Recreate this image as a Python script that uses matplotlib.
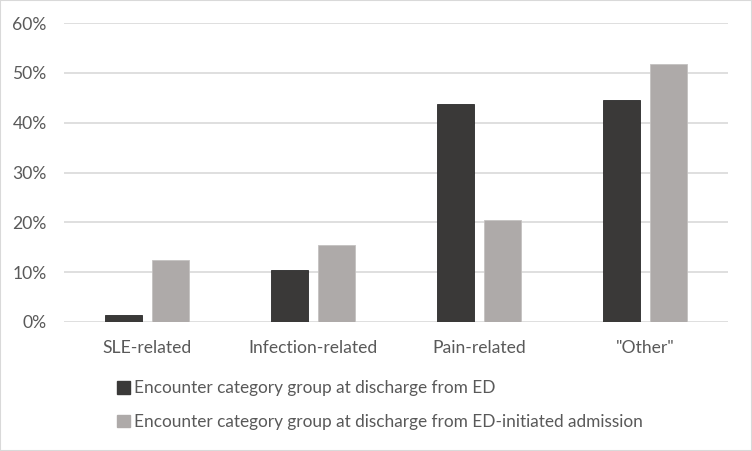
import numpy as np
import matplotlib.pyplot as plt
from matplotlib.patches import Patch, Rectangle

categories = ["SLE-related", "Infection-related", "Pain-related", "\"Other\""]
ed_discharge = [1.4, 10.4, 43.7, 44.6]
ed_admission = [12.4, 15.5, 20.4, 51.7]
series_names = ["Encounter category group at discharge from ED",
                "Encounter category group at discharge from ED-initiated admission"]
yticks = [0, 10, 20, 30, 40, 50, 60]

dark = "#3a3938"
light = "#aeaaa9"
text_col = "#595959"

plt.rcParams['font.family'] = ['Lato', 'DejaVu Sans']

fig = plt.figure(figsize=(7.52, 4.51), dpi=100)
ax = fig.add_axes([64/752, 129/451, 664/752, 299/451])

x = np.arange(len(categories))
w = 0.223
off = 0.1416
ax.bar(x - off, ed_discharge, width=w, color=dark, edgecolor="#2a2a2a", linewidth=0.6, zorder=3)
ax.bar(x + off, ed_admission, width=w, color=light, edgecolor="#c4c1c0", linewidth=0.6, zorder=3)

ax.set_xlim(-0.5, len(categories) - 0.5)
ax.set_ylim(0, 60)
ax.set_yticks(yticks)
ax.set_yticklabels([f"{t}%" for t in yticks])
ax.set_xticks(x)
ax.set_xticklabels(categories)
ax.grid(axis="y", color="#d9d9d9", linewidth=1.2, zorder=0)
for s in ax.spines.values():
    s.set_visible(False)
ax.tick_params(axis="both", length=0, labelsize=12.6, labelcolor=text_col)
ax.tick_params(axis="y", pad=12.5)
ax.tick_params(axis="x", pad=13)

# legend stacked under the axes, small square keys
handles = [Patch(facecolor=dark, edgecolor=dark), Patch(facecolor=light, edgecolor=light)]
fig.legend(handles, series_names, loc="upper left", bbox_to_anchor=(102/752, 1 - 365/451),
           frameon=False, fontsize=12.4, labelcolor=text_col, handlelength=0.7,
           handleheight=0.7, handletextpad=0.25, labelspacing=1.0)

fig.patches.append(Rectangle((0, 0), 1, 1, transform=fig.transFigure, fill=False,
                             edgecolor="#d9d9d9", linewidth=1.5))

fig.savefig("out.png", dpi=100)
